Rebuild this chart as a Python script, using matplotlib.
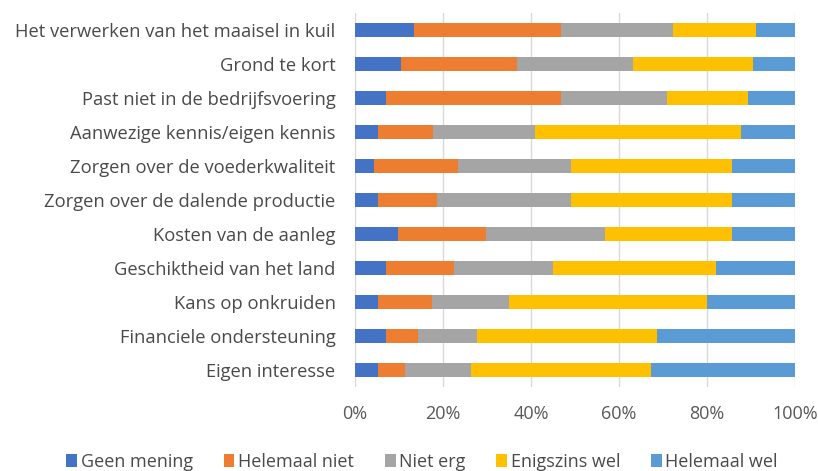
import matplotlib
matplotlib.use("Agg")
import matplotlib.pyplot as plt
from matplotlib.ticker import PercentFormatter

categories = [
    "Het verwerken van het maaisel in kuil",
    "Grond te kort",
    "Past niet in de bedrijfsvoering",
    "Aanwezige kennis/eigen kennis",
    "Zorgen over de voederkwaliteit",
    "Zorgen over de dalende productie",
    "Kosten van de aanleg",
    "Geschiktheid van het land",
    "Kans op onkruiden",
    "Financiele ondersteuning",
    "Eigen interesse",
]
series_names = ["Geen mening", "Helemaal niet", "Niet erg", "Enigszins wel", "Helemaal wel"]
geen_mening   = [13.3, 10.4, 7.1, 5.2, 4.3, 5.2, 9.7, 7.1, 5.2, 7.1, 5.2]
helemaal_niet = [33.4, 26.3, 39.6, 12.6, 19.0, 13.5, 20.0, 15.5, 12.3, 7.2, 6.1]
niet_erg      = [25.5, 26.4, 24.3, 23.0, 25.7, 30.3, 27.1, 22.5, 17.6, 13.4, 15.1]
enigszins_wel = [18.9, 27.4, 18.2, 46.8, 36.6, 36.6, 28.8, 37.0, 44.8, 40.9, 40.9]
helemaal_wel  = [8.9, 9.5, 10.8, 12.4, 14.4, 14.4, 14.4, 17.9, 20.1, 31.4, 32.7]
series = [geen_mening, helemaal_niet, niet_erg, enigszins_wel, helemaal_wel]
colors = ["#4472C4", "#ED7D31", "#A5A5A5", "#FFC000", "#5B9BD5"]

plt.rcParams['font.family'] = ['Open Sans', 'DejaVu Sans']
fig = plt.figure(figsize=(8.18, 4.71), dpi=100)
ax = fig.add_axes([0.434, 0.178, 0.538, 0.794])

ypos = list(range(len(categories)))[::-1]
left = [0.0] * len(categories)
for name, vals, c in zip(series_names, series, colors):
    ax.barh(ypos, vals, left=left, height=0.42, color=c, label=name, zorder=2)
    left = [l + v for l, v in zip(left, vals)]

ax.set_xlim(0, 100)
ax.set_ylim(-0.5, len(categories) - 0.5)
ax.set_yticks(ypos)
ax.set_yticklabels(categories, fontsize=13.2, color="#4a4a4a")
ax.set_xticks([0, 20, 40, 60, 80, 100])
ax.xaxis.set_major_formatter(PercentFormatter(decimals=0))
ax.tick_params(axis='x', labelsize=13, labelcolor="#595959", length=0, pad=13)
ax.tick_params(axis='y', length=0, pad=14)
ax.grid(axis='x', color="#D9D9D9", linewidth=1, zorder=0)
for s in ax.spines.values():
    s.set_visible(False)

fig.legend(loc='lower center', bbox_to_anchor=(0.516, -0.034), ncol=5, frameon=False,
           fontsize=13, handlelength=0.6, handleheight=0.7, handletextpad=0.2,
           columnspacing=1.7, labelcolor="#4a4a4a")

fig.savefig("out.png", dpi=100)
